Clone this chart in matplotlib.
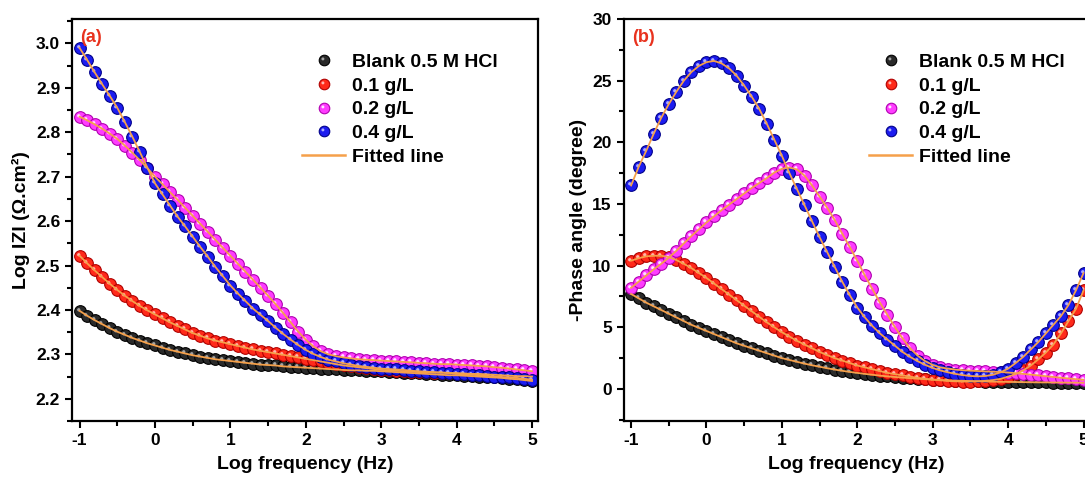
import numpy as np
import matplotlib
matplotlib.use('Agg')
from matplotlib import pyplot as plt
from matplotlib.path import Path
from matplotlib.lines import Line2D
from matplotlib.ticker import MultipleLocator, FormatStrFormatter

# log frequency grid (10 points per decade)
logf = [-1.0, -0.9, -0.8, -0.7, -0.6, -0.5, -0.4, -0.3, -0.2, -0.1,
        0.0, 0.1, 0.2, 0.3, 0.4, 0.5, 0.6, 0.7, 0.8, 0.9,
        1.0, 1.1, 1.2, 1.3, 1.4, 1.5, 1.6, 1.7, 1.8, 1.9,
        2.0, 2.1, 2.2, 2.3, 2.4, 2.5, 2.6, 2.7, 2.8, 2.9,
        3.0, 3.1, 3.2, 3.3, 3.4, 3.5, 3.6, 3.7, 3.8, 3.9,
        4.0, 4.1, 4.2, 4.3, 4.4, 4.5, 4.6, 4.7, 4.8, 4.9,
        5.0]

labels = ['Blank 0.5 M HCl', '0.1 g/L', '0.2 g/L', '0.4 g/L']

# (a) Log |Z|
logz_blank = [2.398, 2.387, 2.377, 2.368, 2.359, 2.351, 2.344, 2.337, 2.331, 2.325,
              2.320, 2.315, 2.310, 2.306, 2.302, 2.298, 2.295, 2.292, 2.289, 2.287,
              2.285, 2.283, 2.281, 2.279, 2.277, 2.276, 2.275, 2.273, 2.272, 2.271,
              2.270, 2.269, 2.268, 2.267, 2.266, 2.265, 2.264, 2.264, 2.263, 2.263,
              2.262, 2.261, 2.260, 2.259, 2.258, 2.257, 2.256, 2.255, 2.254, 2.253,
              2.253, 2.252, 2.251, 2.250, 2.249, 2.248, 2.247, 2.245, 2.244, 2.242,
              2.240]
logz_01 = [2.522, 2.505, 2.489, 2.474, 2.459, 2.445, 2.432, 2.420, 2.409, 2.399,
           2.390, 2.381, 2.372, 2.364, 2.356, 2.348, 2.342, 2.336, 2.331, 2.327,
           2.323, 2.319, 2.315, 2.311, 2.308, 2.305, 2.302, 2.299, 2.296, 2.293,
           2.290, 2.287, 2.284, 2.281, 2.278, 2.275, 2.273, 2.271, 2.269, 2.267,
           2.265, 2.264, 2.263, 2.262, 2.261, 2.260, 2.260, 2.259, 2.259, 2.258,
           2.258, 2.257, 2.256, 2.256, 2.255, 2.254, 2.253, 2.252, 2.251, 2.251,
           2.250]
logz_02 = [2.835, 2.827, 2.818, 2.808, 2.797, 2.785, 2.770, 2.754, 2.737, 2.719,
           2.700, 2.683, 2.665, 2.648, 2.630, 2.612, 2.594, 2.576, 2.558, 2.540,
           2.522, 2.504, 2.486, 2.468, 2.450, 2.432, 2.413, 2.393, 2.372, 2.351,
           2.333, 2.318, 2.307, 2.300, 2.296, 2.293, 2.291, 2.289, 2.288, 2.287,
           2.286, 2.285, 2.284, 2.283, 2.282, 2.281, 2.280, 2.279, 2.278, 2.278,
           2.277, 2.276, 2.275, 2.274, 2.273, 2.271, 2.270, 2.268, 2.266, 2.264,
           2.262]
logz_04 = [2.990, 2.963, 2.935, 2.908, 2.882, 2.855, 2.823, 2.790, 2.755, 2.720,
           2.685, 2.660, 2.635, 2.610, 2.588, 2.565, 2.542, 2.520, 2.497, 2.476,
           2.455, 2.437, 2.420, 2.403, 2.389, 2.375, 2.360, 2.346, 2.333, 2.321,
           2.310, 2.301, 2.294, 2.288, 2.284, 2.280, 2.277, 2.274, 2.272, 2.270,
           2.268, 2.267, 2.266, 2.265, 2.263, 2.262, 2.261, 2.260, 2.259, 2.258,
           2.256, 2.255, 2.254, 2.253, 2.252, 2.250, 2.249, 2.248, 2.247, 2.245,
           2.243]

# (b) -phase angle (degree)
phase_blank = [7.7, 7.35, 7.0, 6.7, 6.4, 6.1, 5.8, 5.5, 5.2, 4.95,
               4.7, 4.45, 4.2, 3.95, 3.7, 3.5, 3.3, 3.1, 2.9, 2.7,
               2.5, 2.35, 2.2, 2.05, 1.92, 1.8, 1.68, 1.57, 1.47, 1.38,
               1.3, 1.22, 1.15, 1.08, 1.02, 0.97, 0.92, 0.87, 0.83, 0.79,
               0.76, 0.73, 0.70, 0.68, 0.66, 0.64, 0.62, 0.60, 0.59, 0.58,
               0.57, 0.56, 0.55, 0.54, 0.53, 0.53, 0.52, 0.52, 0.51, 0.51,
               0.5]
phase_01 = [10.4, 10.6, 10.75, 10.8, 10.8, 10.7, 10.45, 10.15, 9.8, 9.4,
            9.0, 8.55, 8.1, 7.65, 7.2, 6.75, 6.3, 5.85, 5.4, 5.0,
            4.6, 4.25, 3.9, 3.6, 3.3, 3.0, 2.75, 2.5, 2.3, 2.1,
            1.9, 1.75, 1.6, 1.45, 1.3, 1.2, 1.1, 1.0, 0.9, 0.82,
            0.75, 0.7, 0.65, 0.62, 0.6, 0.6, 0.62, 0.66, 0.72, 0.82,
            1.0, 1.2, 1.5, 1.9, 2.4, 2.95, 3.6, 4.5, 5.5, 6.5,
            8.0]
phase_02 = [8.2, 8.7, 9.2, 9.7, 10.15, 10.65, 11.2, 11.8, 12.4, 12.95,
            13.5, 14.0, 14.5, 14.95, 15.4, 15.85, 16.3, 16.7, 17.1, 17.55,
            17.85, 17.95, 17.8, 17.3, 16.5, 15.6, 14.7, 13.7, 12.6, 11.5,
            10.4, 9.2, 8.1, 7.0, 6.0, 5.0, 4.1, 3.3, 2.7, 2.25,
            1.95, 1.75, 1.65, 1.57, 1.52, 1.48, 1.45, 1.42, 1.4, 1.37,
            1.33, 1.28, 1.22, 1.16, 1.1, 1.03, 0.97, 0.91, 0.85, 0.79,
            0.74]
phase_04 = [16.5, 18.0, 19.3, 20.7, 22.0, 23.1, 24.1, 25.0, 25.7, 26.2,
            26.5, 26.6, 26.4, 26.0, 25.4, 24.6, 23.7, 22.7, 21.5, 20.2,
            18.9, 17.5, 16.2, 14.9, 13.6, 12.3, 11.1, 9.9, 8.7, 7.6,
            6.6, 5.8, 5.1, 4.5, 4.0, 3.5, 3.0, 2.6, 2.25, 1.95,
            1.7, 1.5, 1.35, 1.22, 1.12, 1.05, 1.02, 1.05, 1.15, 1.35,
            1.65, 2.1, 2.6, 3.2, 3.8, 4.5, 5.2, 5.9, 6.8, 8.0,
            9.4]

# ball colours: face, edge, highlight
faces = ['#2a2a2a', '#ff2a1a', '#ff3cff', '#1c1cf0']
edges = ['#000000', '#b00000', '#b000b0', '#00008a']
shines = ['#bbbbbb', '#ffd0c8', '#ffffff', '#c8c8ff']
FIT = '#f5a04a'
MS = 8.4

plt.rcParams['font.family'] = ['Liberation Sans', 'DejaVu Sans']
plt.rcParams['font.weight'] = 'bold'
plt.rcParams['axes.unicode_minus'] = False


def shine_path():
    """small off-centre dot that gives the balls a glossy look"""
    circ = Path.circle(center=(-0.15, 0.15), radius=0.14)
    verts = np.vstack([[[-0.5, -0.5], [0.5, 0.5]], circ.vertices])
    codes = np.concatenate([[Path.MOVETO, Path.MOVETO], circ.codes])
    return Path(verts, codes)


SHINE = shine_path()


def draw_panel(ax, series, tag, legend_x):
    for y, fc, ec, sc in zip(series, faces, edges, shines):
        ax.plot(logf, y, ls='none', marker='o', ms=MS, mfc=fc, mec=ec, mew=0.8, zorder=2)
        ax.plot(logf, y, ls='none', marker=SHINE, ms=MS, mfc=sc, mew=0, alpha=0.85, zorder=2)
    for y in series:
        ax.plot(logf, y, color=FIT, lw=1.3, zorder=3)

    handles = []
    for fc, ec, sc in zip(faces, edges, shines):
        ball = Line2D([], [], ls='none', marker='o', ms=7.6, mfc=fc, mec=ec, mew=0.8)
        glint = Line2D([], [], ls='none', marker=SHINE, ms=7.6, mfc=sc, mew=0, alpha=0.85)
        handles.append((ball, glint))
    handles.append(Line2D([], [], color=FIT, lw=1.8))
    ax.legend(handles, labels + ['Fitted line'], loc='upper left',
              bbox_to_anchor=(legend_x, 0.915), frameon=False, fontsize=14,
              handlelength=2.2, handletextpad=0.35, labelspacing=0.32,
              borderpad=0, borderaxespad=0)

    ax.text(0.018, 0.975, tag, transform=ax.transAxes, ha='left', va='top',
            fontsize=13, fontweight='bold', color='#e8321e')

    ax.set_xlim(-1.1, 5.08)
    ax.xaxis.set_major_locator(MultipleLocator(1))
    ax.xaxis.set_minor_locator(MultipleLocator(0.5))
    ax.set_xlabel('Log frequency (Hz)', fontsize=14, fontweight='bold', labelpad=6)
    ax.tick_params(which='both', direction='out', width=1.5, labelsize=12.5, top=False, right=False)
    ax.tick_params(which='major', length=5)
    ax.tick_params(which='minor', length=3.5)
    for sp in ax.spines.values():
        sp.set_linewidth(1.6)


fig = plt.figure(figsize=(10.85, 4.79), dpi=100)
ax1 = fig.add_axes([0.0664, 0.1211, 0.4295, 0.8392])
ax2 = fig.add_axes([0.5747, 0.1211, 0.4295, 0.8392])

draw_panel(ax1, [logz_blank, logz_01, logz_02, logz_04], '(a)', 0.494)
ax1.set_ylim(2.15, 3.055)
ax1.yaxis.set_major_locator(MultipleLocator(0.1))
ax1.yaxis.set_minor_locator(MultipleLocator(0.05))
ax1.yaxis.set_major_formatter(FormatStrFormatter('%.1f'))
ax1.set_ylabel('Log IZI (\u03a9.cm\u00b2)', fontsize=14, fontweight='bold', labelpad=4)

draw_panel(ax2, [phase_blank, phase_01, phase_02, phase_04], '(b)', 0.527)
ax2.set_ylim(-2.6, 30)
ax2.yaxis.set_major_locator(MultipleLocator(5))
ax2.yaxis.set_minor_locator(MultipleLocator(2.5))
ax2.set_ylabel('-Phase angle (degree)', fontsize=14, fontweight='bold', labelpad=4)

fig.savefig('out.png', dpi=100)
